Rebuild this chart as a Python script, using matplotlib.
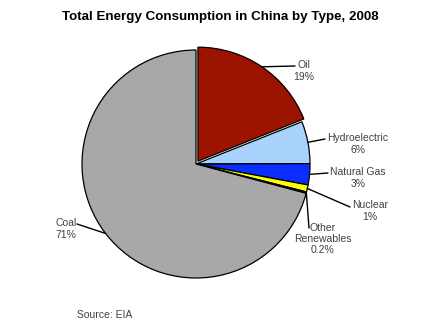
import numpy as np
import matplotlib
matplotlib.use("Agg")
import matplotlib.pyplot as plt

plt.rcParams['font.family'] = ['Liberation Sans', 'DejaVu Sans']

# data, clockwise from 12 o'clock
labels = ['Oil', 'Hydroelectric', 'Natural Gas', 'Nuclear', 'Other\nRenewables', 'Coal']
pct_text = ['19%', '6%', '3%', '1%', '0.2%', '71%']
shares = [19, 6, 3, 1, 0.2, 71]
colors = ['#9C1300', '#A9D3FD', '#0A2EFF', '#FFFF00', '#7F7F7F', '#A8A8A8']
explode = [0.03, 0, 0, 0, 0, 0]

# label centres and leader attach points, in figure pixels (x from left, y from top)
label_px = [(304, 71), (358, 144), (358, 178), (370, 211), (323, 239), (66, 229)]
attach_px = [(295, 66), (325, 139), (328, 173), (350, 207), (309, 228), (77, 224)]

W, H = 440, 336
cx, cy, R = 196, 164, 114
half = 150


def to_data(p):
    return ((p[0] - cx) / R, (cy - p[1]) / R)


fig = plt.figure(figsize=(W / 100, H / 100), dpi=100)
ax = fig.add_axes([(cx - half) / W, (H - cy - half) / H, 2 * half / W, 2 * half / H])

wedges, _ = ax.pie(shares, colors=colors, explode=explode, startangle=90,
                   counterclock=False, radius=1,
                   wedgeprops=dict(edgecolor='black', linewidth=0.9))
lim = half / R
ax.set_xlim(-lim, lim)
ax.set_ylim(-lim, lim)
ax.axis('off')

for w, lab, pct, lp, ap, ex in zip(wedges, labels, pct_text, label_px, attach_px, explode):
    ang = np.deg2rad((w.theta1 + w.theta2) / 2)
    r = 1 + ex
    xy = (r * np.cos(ang), r * np.sin(ang))
    tx, ty = to_data(lp)
    ax.text(tx, ty, lab + '\n' + pct, ha='center', va='center',
            fontsize=7.5, color='#404040', linespacing=1.15)
    ax.annotate('', xy=xy, xytext=to_data(ap),
                arrowprops=dict(arrowstyle='-', color='black', lw=1,
                                shrinkA=0, shrinkB=0))

fig.text(0.5, 1 - 17 / H, 'Total Energy Consumption in China by Type, 2008',
         ha='center', va='center', fontsize=9.6, fontweight='bold', color='black')
fig.text(105 / W, 1 - 315 / H, 'Source: EIA', ha='center', va='center',
         fontsize=7.5, color='#404040')

fig.savefig('out.png', dpi=100)
